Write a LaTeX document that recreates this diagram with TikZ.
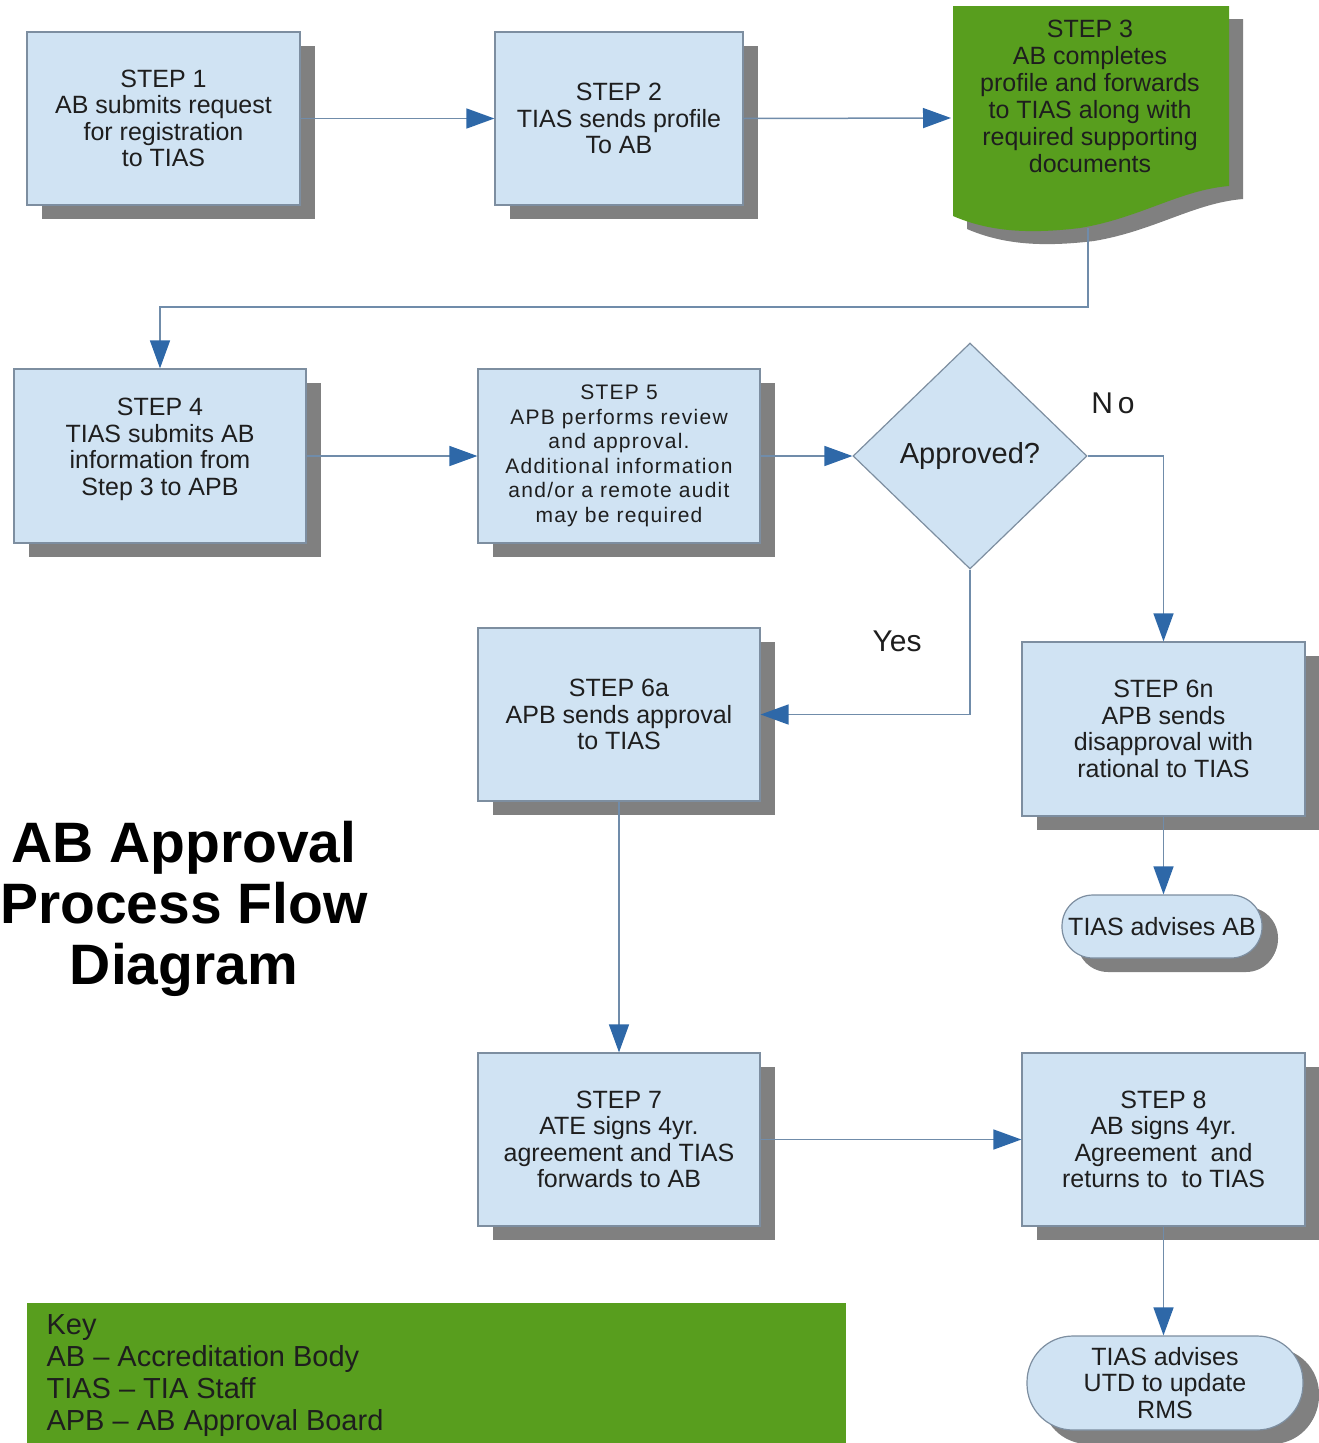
\documentclass[tikz,border=0pt]{standalone}
\usepackage{fontspec}
\setmainfont{Liberation Sans}
\usetikzlibrary{shapes.geometric,arrows.meta,shadows}
\definecolor{boxfill}{RGB}{208,227,243}
\definecolor{boxline}{RGB}{125,142,160}
\definecolor{shadowgray}{RGB}{128,128,128}
\definecolor{docgreen}{RGB}{88,158,30}
\definecolor{tipcol}{RGB}{46,104,168}
\definecolor{linecol}{RGB}{112,140,170}
\definecolor{txt}{RGB}{30,30,30}
\begin{document}
\begin{tikzpicture}[x=1pt,y=-1pt,
  stepbox/.style={rectangle, draw=boxline, line width=1.2pt, fill=boxfill, inner sep=0pt,
    align=center, text=txt, font=\fontsize{25}{26.5}\selectfont,
    general shadow={fill=shadowgray, shadow xshift=15pt, shadow yshift=-14pt}},
  termbox/.style={stepbox, general shadow={fill=shadowgray, shadow xshift=16pt, shadow yshift=-12pt}},
  conn/.style={draw=linecol, line width=1.5pt, -{Triangle[length=28pt,width=20pt,fill=tipcol,color=tipcol]}},
  lbl/.style={text=txt, font=\fontsize{30}{32}\selectfont}
]
\useasboundingbox (0,0) rectangle (1319,1443);
\clip (0,0) rectangle (1319,1443);

% Step 3 document shape
\fill[shadowgray] (967,19) -- (1243,19) -- (1243,199) .. controls (1194,203) and (1154,231) .. (1094,241) .. controls (1044,247) and (1004,245) .. (967,229) -- cycle;
\fill[docgreen] (953,6) -- (1229,6) -- (1229,186) .. controls (1180,190) and (1140,218) .. (1080,228) .. controls (1030,234) and (990,232) .. (953,216) -- cycle;
\node[text=txt, align=center, font=\fontsize{25}{27}\selectfont] (s3) at (1090,96)
  {STEP 3\\AB completes\\profile and forwards\\to TIAS along with\\required supporting\\documents};
\coordinate (s3w) at (951,118);
\coordinate (s3b) at (1088,228);
\coordinate (bend) at (1088,307);

\node[stepbox, minimum width=273pt, minimum height=173pt] (s1) at (163.5,118.5)
  {STEP 1\\AB submits request\\for registration\\to TIAS};
\node[stepbox, minimum width=248pt, minimum height=173pt] (s2) at (619,118.5)
  {STEP 2\\TIAS sends profile\\To AB};
\node[stepbox, minimum width=292pt, minimum height=174pt] (s4) at (160,456)
  {STEP 4\\TIAS submits AB\\information from\\Step 3 to APB\\[-8.5pt]};
\node[stepbox, minimum width=282pt, minimum height=174pt, font=\fontsize{21}{24.5}\selectfont\addfontfeatures{LetterSpace=6}] (s5) at (619,456)
  {STEP 5\\APB performs review\\and approval.\\Additional information\\and/or a remote audit\\may be required};
\node[diamond, draw=boxline, line width=1.2pt, fill=boxfill, inner sep=0pt, text=txt,
  minimum width=234pt, minimum height=226pt, font=\fontsize{29}{32}\selectfont] (dia) at (970,456) {Approved?};
\node[stepbox, minimum width=282pt, minimum height=173pt] (s6a) at (619,714.5)
  {STEP 6a\\APB sends approval\\to TIAS};
\node[stepbox, minimum width=283pt, minimum height=174pt] (s6n) at (1163.5,729)
  {STEP 6n\\APB sends\\disapproval with\\rational to TIAS};
\node[termbox, rounded corners=31pt, minimum width=200pt, minimum height=63pt] (t1) at (1162,926.5)
  {TIAS advises AB};
\node[stepbox, minimum width=282pt, minimum height=173pt] (s7) at (619,1139.5)
  {STEP 7\\ATE signs 4yr.\\agreement and TIAS\\forwards to AB};
\node[stepbox, minimum width=283pt, minimum height=173pt] (s8) at (1163.5,1139.5)
  {STEP 8\\AB signs 4yr.\\Agreement \ and\\returns to \ to TIAS};
\node[termbox, rounded corners=46pt, minimum width=276pt, minimum height=94pt] (t2) at (1165,1383)
  {TIAS advises\\UTD to update\\RMS};

\node[lbl] (no) at (1113,403) {N\,o};
\node[lbl] (yes) at (897,641) {Yes};

\node[align=center, text=black, font=\fontsize{57}{61}\selectfont\bfseries] (title) at (184,909)
  {AB Approval\\Process Flow\\Diagram};

% Key
\fill[docgreen] (27,1303) rectangle (846,1450);
\node[anchor=west, align=left, text=txt, font=\fontsize{29}{32.3}\selectfont] (key) at (43,1375.5)
  {Key\\AB -- Accreditation Body\\TIAS -- TIA Staff\\APB -- AB Approval Board};

% connectors
\draw[conn] (s1.east) -- (s2.west);
\draw[conn] (s2.east) -- (s3w);
\draw[conn] (s3b) -- (bend) -| (s4.north);
\draw[conn] (s4.east) -- (s5.west);
\draw[conn] (s5.east) -- (dia.west);
\draw[conn] (dia.east) -| (s6n.north);
\draw[conn] (dia.south) |- (s6a.east);
\draw[conn] (s6a.south) -- (s7.north);
\draw[conn] (s6n.south) -- (s6n.south |- t1.north);
\draw[conn] (s7.east) -- (s8.west);
\draw[conn] (s8.south) -- (s8.south |- t2.north);
\end{tikzpicture}
\end{document}
